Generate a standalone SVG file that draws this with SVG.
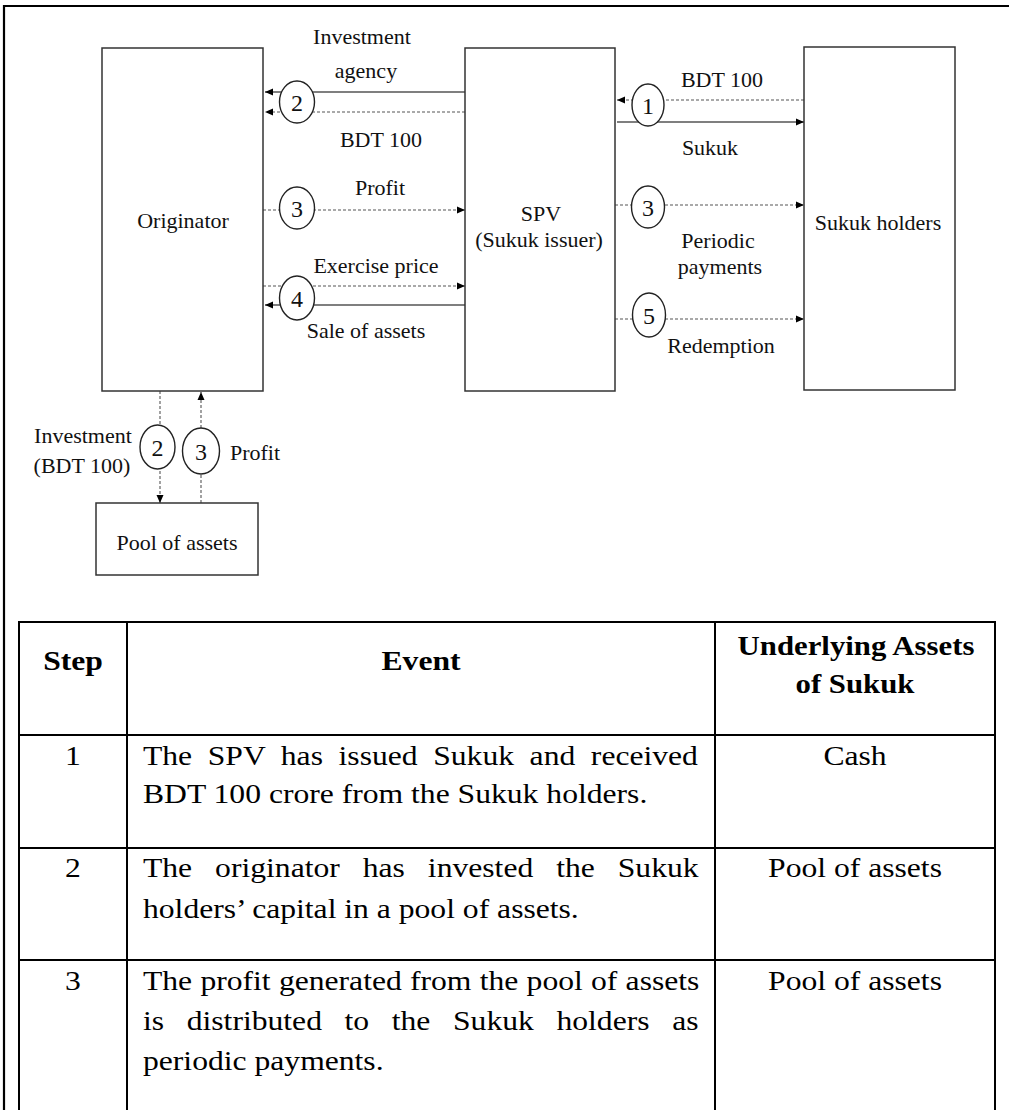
<svg xmlns="http://www.w3.org/2000/svg" width="1009" height="1110" viewBox="0 0 1009 1110">
<style>
.box{fill:#fff;stroke:#333;stroke-width:1.5}
.lbl{font-family:"Liberation Serif","Times New Roman",serif;font-size:22px;fill:#111;text-anchor:middle}
.num{font-family:"Liberation Serif","Times New Roman",serif;font-size:24px;fill:#111;text-anchor:middle}
.circ{fill:#fff;stroke:#222;stroke-width:1.4}
.solid{stroke:#555;stroke-width:1.5;fill:none}
.dash{stroke:#555;stroke-width:1.1;stroke-dasharray:3 2;fill:none}
.frame{stroke:#000;stroke-width:2.2;fill:none}
.grid{stroke:#000;stroke-width:2;fill:none}
.tb{font-family:"Liberation Serif","Times New Roman",serif;font-size:27.5px;fill:#000}
.tbb{font-family:"Liberation Serif","Times New Roman",serif;font-size:27.5px;font-weight:bold;fill:#000;text-anchor:middle}
.mid{text-anchor:middle}
</style>
<defs>
<marker id="ah" markerUnits="userSpaceOnUse" markerWidth="9" markerHeight="8" refX="8" refY="4" orient="auto">
<path d="M0,0.5 L8,4 L0,7.5 z" fill="#000"/>
</marker>
</defs>

<g id="frame">
<line class="frame" x1="4" y1="6" x2="1009" y2="6"/>
<line class="frame" x1="4" y1="5" x2="4" y2="1110"/>
</g>

<g id="connectors">
<line class="solid" x1="465" y1="92" x2="265" y2="92" marker-end="url(#ah)"/>
<line class="dash" x1="465" y1="112" x2="265" y2="112" marker-end="url(#ah)"/>
<line class="dash" x1="263" y1="210" x2="465" y2="210" marker-end="url(#ah)"/>
<line class="dash" x1="263" y1="286" x2="465" y2="286" marker-end="url(#ah)"/>
<line class="solid" x1="465" y1="305" x2="265" y2="305" marker-end="url(#ah)"/>
<line class="dash" x1="804" y1="100" x2="617" y2="100" marker-end="url(#ah)"/>
<line class="solid" x1="617" y1="122" x2="804" y2="122" marker-end="url(#ah)"/>
<line class="dash" x1="615" y1="205" x2="804" y2="205" marker-end="url(#ah)"/>
<line class="dash" x1="615" y1="319" x2="804" y2="319" marker-end="url(#ah)"/>
<line class="dash" x1="160" y1="391" x2="160" y2="503" marker-end="url(#ah)"/>
<line class="dash" x1="201" y1="503" x2="201" y2="392" marker-end="url(#ah)"/>
</g>

<g id="originator">
<rect class="box" x="102" y="48" width="161" height="343"/>
<text class="lbl" x="183" y="228">Originator</text>
</g>

<g id="spv">
<rect class="box" x="465" y="48" width="150" height="343"/>
<text class="lbl" x="541" y="221">SPV</text>
<text class="lbl" x="539" y="247">(Sukuk issuer)</text>
</g>

<g id="sukuk-holders">
<rect class="box" x="804" y="47" width="151" height="343"/>
<text class="lbl" x="878" y="230">Sukuk holders</text>
</g>

<g id="pool">
<rect class="box" x="96" y="503" width="162" height="72"/>
<text class="lbl" x="177" y="550">Pool of assets</text>
</g>

<g id="step-markers">
<ellipse class="circ" cx="297" cy="102" rx="17.5" ry="21"/>
<text class="num" x="297" y="110.5">2</text>
<ellipse class="circ" cx="297" cy="208" rx="17.5" ry="21"/>
<text class="num" x="297" y="216.5">3</text>
<ellipse class="circ" cx="297" cy="298" rx="17.5" ry="22"/>
<text class="num" x="297" y="306.5">4</text>
<ellipse class="circ" cx="648" cy="105" rx="16" ry="21"/>
<text class="num" x="648" y="113.5">1</text>
<ellipse class="circ" cx="648" cy="207" rx="16.5" ry="21"/>
<text class="num" x="648" y="215.5">3</text>
<ellipse class="circ" cx="649" cy="315" rx="16.5" ry="22"/>
<text class="num" x="649" y="323.5">5</text>
<ellipse class="circ" cx="157.5" cy="447" rx="17.5" ry="22"/>
<text class="num" x="157.5" y="455.5">2</text>
<ellipse class="circ" cx="201" cy="451" rx="18.5" ry="23"/>
<text class="num" x="201" y="459.5">3</text>
</g>

<g id="labels">
<text class="lbl" x="362" y="44">Investment</text>
<text class="lbl" x="366" y="78">agency</text>
<text class="lbl" x="381" y="147">BDT 100</text>
<text class="lbl" x="380" y="195">Profit</text>
<text class="lbl" x="376" y="273">Exercise price</text>
<text class="lbl" x="366" y="338">Sale of assets</text>
<text class="lbl" x="722" y="87">BDT 100</text>
<text class="lbl" x="710" y="155">Sukuk</text>
<text class="lbl" x="718" y="248">Periodic</text>
<text class="lbl" x="720" y="274">payments</text>
<text class="lbl" x="721" y="353">Redemption</text>
<text class="lbl" x="83" y="443">Investment</text>
<text class="lbl" x="82" y="473">(BDT 100)</text>
<text class="lbl" x="255" y="460">Profit</text>
</g>

<g id="table">
<line class="grid" x1="18" y1="622" x2="996" y2="622"/>
<line class="grid" x1="18" y1="735" x2="996" y2="735"/>
<line class="grid" x1="18" y1="848" x2="996" y2="848"/>
<line class="grid" x1="18" y1="960" x2="996" y2="960"/>
<line class="grid" x1="19" y1="621" x2="19" y2="1110"/>
<line class="grid" x1="127" y1="621" x2="127" y2="1110"/>
<line class="grid" x1="715" y1="621" x2="715" y2="1110"/>
<line class="grid" x1="995" y1="621" x2="995" y2="1110"/>

<text class="tbb" transform="translate(73 670) scale(1.15 1)">Step</text>
<text class="tbb" transform="translate(421 670) scale(1.15 1)">Event</text>
<text class="tbb" transform="translate(856 655) scale(1.12 1)">Underlying Assets</text>
<text class="tbb" transform="translate(855 693) scale(1.12 1)">of Sukuk</text>

<text class="tb mid" transform="translate(73 765) scale(1.15 1)">1</text>
<text class="tb" transform="translate(143 765) scale(1.15 1)" word-spacing="6.7">The SPV has issued Sukuk and received</text>
<text class="tb" transform="translate(143 803) scale(1.15 1)">BDT 100 crore from the Sukuk holders.</text>
<text class="tb mid" transform="translate(855 765) scale(1.15 1)">Cash</text>

<text class="tb mid" transform="translate(73 877) scale(1.15 1)">2</text>
<text class="tb" transform="translate(143 877) scale(1.15 1)" word-spacing="13.1">The originator has invested the Sukuk</text>
<text class="tb" transform="translate(143 918) scale(1.15 1)">holders’ capital in a pool of assets.</text>
<text class="tb mid" transform="translate(855 877) scale(1.15 1)">Pool of assets</text>

<text class="tb mid" transform="translate(73 990) scale(1.15 1)">3</text>
<text class="tb" transform="translate(143 990) scale(1.15 1)" word-spacing="0.3">The profit generated from the pool of assets</text>
<text class="tb" transform="translate(143 1030) scale(1.15 1)" word-spacing="12.8">is distributed to the Sukuk holders as</text>
<text class="tb" transform="translate(143 1070) scale(1.15 1)">periodic payments.</text>
<text class="tb mid" transform="translate(855 990) scale(1.15 1)">Pool of assets</text>
</g>
</svg>
